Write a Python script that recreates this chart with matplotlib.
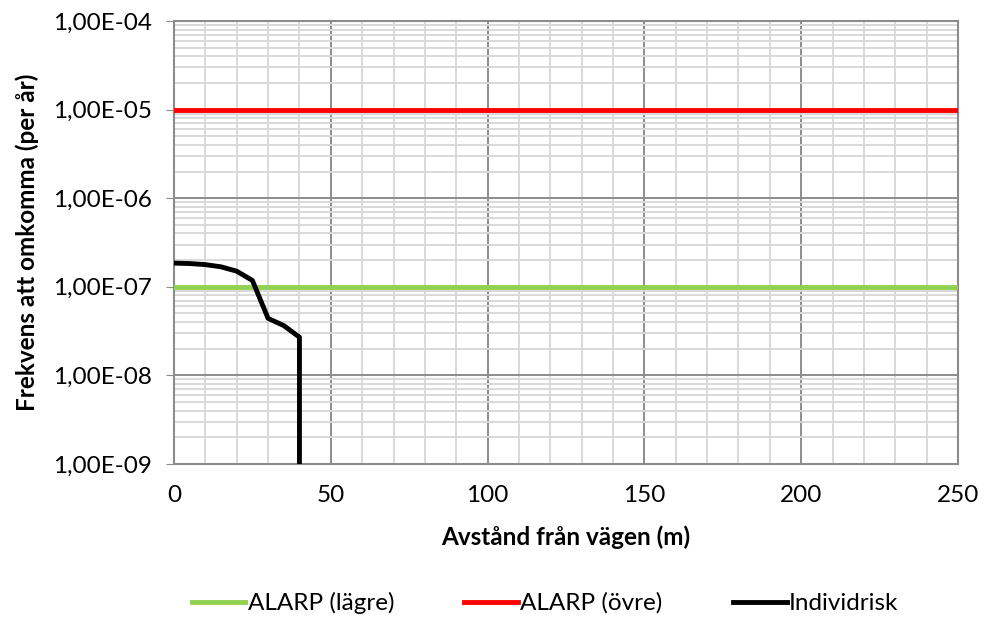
import numpy as np
import matplotlib
matplotlib.use('Agg')
import matplotlib.pyplot as plt
from matplotlib.ticker import FixedLocator, LogLocator, NullFormatter

plt.rcParams['font.family'] = ['Lato', 'DejaVu Sans']

# Data
avstand = [0, 5, 10, 15, 20, 25, 30, 35, 40, 40]
individrisk = [1.85e-7, 1.83e-7, 1.78e-7, 1.68e-7, 1.5e-7, 1.18e-7, 4.4e-8, 3.65e-8, 2.7e-8, 1e-12]
alarp_x = [0, 250]
alarp_lagre = [1e-7, 1e-7]
alarp_ovre = [1e-5, 1e-5]
y_ticks = [1e-9, 1e-8, 1e-7, 1e-6, 1e-5, 1e-4]
y_ticklabels = ['1,00E-09', '1,00E-08', '1,00E-07', '1,00E-06', '1,00E-05', '1,00E-04']
x_ticks = [0, 50, 100, 150, 200, 250]

fig = plt.figure(figsize=(9.84, 6.17), dpi=100)
ax = fig.add_axes([174 / 984, 1 - 464 / 617, (958 - 174) / 984, (464 - 21) / 617])

ax.plot(alarp_x, alarp_lagre, color='#92D050', lw=3.5, label='ALARP (lägre)', zorder=3)
ax.plot(alarp_x, alarp_ovre, color='#FF0000', lw=3.5, label='ALARP (övre)', zorder=3)
ax.plot(avstand, individrisk, color='black', lw=3.5, label='Individrisk', zorder=4,
        solid_joinstyle='round')

ax.set_yscale('log')
ax.set_xlim(0, 250)
ax.set_ylim(1e-9, 1e-4)

ax.yaxis.set_major_locator(FixedLocator(y_ticks))
ax.set_yticklabels(y_ticklabels)
ax.yaxis.set_minor_locator(LogLocator(base=10, subs=np.arange(2, 10)))
ax.yaxis.set_minor_formatter(NullFormatter())
ax.set_xticks(x_ticks)
ax.set_xticks(np.arange(0, 251, 10), minor=True)

ax.grid(which='minor', color='#d9d9d9', lw=1.4, zorder=1)
ax.grid(which='major', color='#8c8c8c', lw=1.4, zorder=2)
ax.set_axisbelow(True)

for s in ax.spines.values():
    s.set_color('#8c8c8c')
    s.set_linewidth(1.5)

ax.tick_params(axis='y', which='major', length=6, color='#8c8c8c', labelsize=17.5, pad=10)
ax.tick_params(axis='y', which='minor', length=0)
ax.tick_params(axis='x', which='both', length=0, labelsize=17.5, pad=15)

ax.set_xlabel('Avstånd från vägen (m)', fontsize=17.5, fontweight='bold', labelpad=14)
ax.set_ylabel('Frekvens att omkomma (per år)', fontsize=17.5, fontweight='bold', labelpad=10)

fig.legend(loc='center', bbox_to_anchor=(545 / 984, 1 - 603 / 617), ncol=3, frameon=False,
           fontsize=17.5, handlelength=2.2, handletextpad=0.1, columnspacing=2.9)

fig.savefig('out.png', dpi=100)
